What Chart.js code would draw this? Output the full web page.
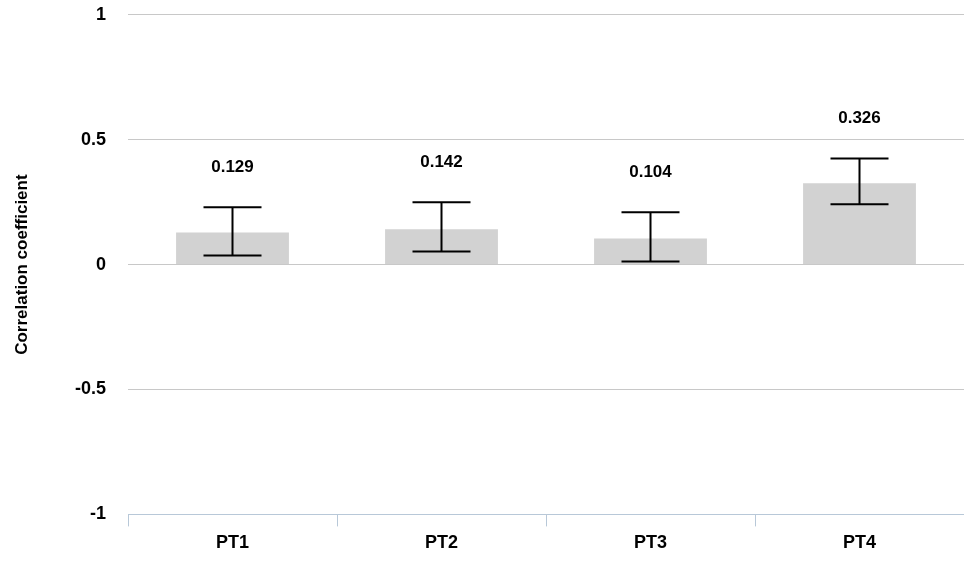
<!DOCTYPE html>
<html><head><meta charset="utf-8">
<script src="https://cdn.jsdelivr.net/npm/chart.js@4/dist/chart.umd.min.js"></script>
<style>html,body{margin:0;background:#fff;overflow:hidden}#wrap{width:964px;height:584px;margin-top:-18px}</style>
</head><body><div id="wrap"><canvas id="c"></canvas></div>
<script>
const categories = ["PT1", "PT2", "PT3", "PT4"];
const values = [0.129, 0.142, 0.104, 0.326];
const errHigh = [0.23, 0.25, 0.21, 0.425];
const errLow = [0.036, 0.052, 0.012, 0.242];
const yTicks = [-1, -0.5, 0, 0.5, 1];
const FONT = "'Liberation Sans', Arial";

const errorBars = {
  id: "errorBars",
  afterDatasetsDraw(chart) {
    const ctx = chart.ctx, y = chart.scales.y;
    const meta = chart.getDatasetMeta(0);
    ctx.save();
    ctx.strokeStyle = "#000"; ctx.lineWidth = 2;
    ctx.fillStyle = "#000"; ctx.font = "bold 17px " + FONT;
    ctx.textAlign = "center"; ctx.textBaseline = "middle";
    meta.data.forEach((bar, i) => {
      const x = bar.x, yh = y.getPixelForValue(errHigh[i]), yl = y.getPixelForValue(errLow[i]);
      ctx.beginPath();
      ctx.moveTo(x, yh); ctx.lineTo(x, yl);
      ctx.moveTo(x - 29, yh); ctx.lineTo(x + 29, yh);
      ctx.moveTo(x - 29, yl); ctx.lineTo(x + 29, yl);
      ctx.stroke();
      ctx.fillText(values[i].toFixed(3), x, yh - 40);
    });
    ctx.restore();
  }
};

new Chart(document.getElementById("c"), {
  type: "bar",
  data: { labels: categories, datasets: [{ data: values, backgroundColor: "#d2d2d2", barPercentage: 0.54, categoryPercentage: 1 }] },
  options: {
    responsive: true, maintainAspectRatio: false, animation: false,
    layout: { padding: { top: 0, right: 0, left: 8, bottom: 6 } },
    plugins: { legend: { display: false }, tooltip: { enabled: false } },
    scales: {
      y: {
        min: -1, max: 1,
        afterBuildTicks: s => { s.ticks = yTicks.map(v => ({ value: v })); },
        afterFit: s => { s.width = 120; },
        ticks: { color: "#000", font: { size: 18, weight: "bold", family: FONT }, padding: 22, callback: v => String(v) },
        grid: { color: "#c8c8c8", drawTicks: false, lineWidth: 1 },
        border: { display: false },
        title: { display: true, text: "Correlation coefficient", color: "#000", font: { size: 17, weight: "bold", family: FONT } }
      },
      x: {
        ticks: { color: "#000", font: { size: 18, weight: "bold", family: FONT }, padding: 6 },
        grid: { display: true, drawOnChartArea: false, offset: true, color: "#b8c8d8", tickLength: 12 },
        border: { color: "#b8c8d8" }
      }
    }
  },
  plugins: [errorBars]
});
</script></body></html>
